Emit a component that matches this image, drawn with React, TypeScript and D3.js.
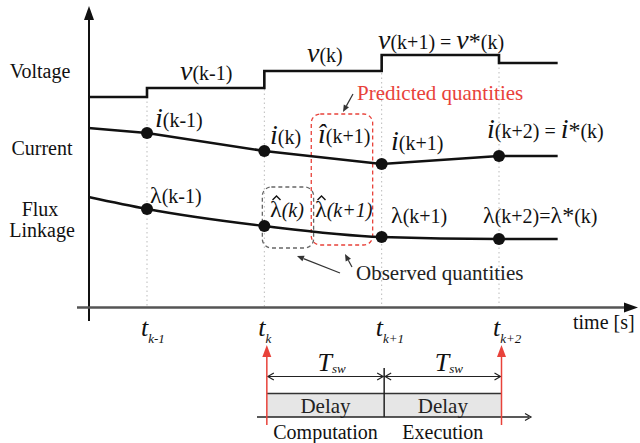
import React from "react";
import * as d3 from "d3";

const W = 640;
const H = 443;

// sample instants (time index) : origin, t(k-1), t(k), t(k+1), t(k+2), end
const timeSteps = [0.5, 1, 2, 3, 4, 4.5];
const sampleTimes = [1, 2, 3, 4];
const sampleTicks = ["k-1", "k", "k+1", "k+2"];
// signal levels (arbitrary units)
const voltage = [210, 219, 236, 252, 244, 244];
const current = [179, 174, 156, 143, 151, 151];
const flux = [110, 98, 81, 70, 68, 68];
const rowLabels = ["Voltage", "Current", "Flux", "Linkage"];

const FONT = "'Liberation Serif', 'Times New Roman', serif";

const x = d3.scaleLinear().domain([1, 4]).range([147, 499]);
const xb = (t: number) => x(t) + 2.5;
const y = d3.scaleLinear().domain([0, 300]).range([307, 7]);

type P = [number, number];

function Arrow({ from, to, color = "#333", w = 1.2, size = 7, head = 3 }: { from: P; to: P; color?: string; w?: number; size?: number; head?: number }) {
  const ang = Math.atan2(to[1] - from[1], to[0] - from[0]);
  const bx = to[0] - size * Math.cos(ang);
  const by = to[1] - size * Math.sin(ang);
  const px = -Math.sin(ang) * head;
  const py = Math.cos(ang) * head;
  return (
    <g>
      <line x1={from[0]} y1={from[1]} x2={bx} y2={by} stroke={color} strokeWidth={w} />
      <polygon points={`${to[0]},${to[1]} ${bx + px},${by + py} ${bx - px},${by - py}`} fill={color} />
    </g>
  );
}

function Chevron({ at, dir }: { at: P; dir: number }) {
  const s = 6;
  return (
    <path
      d={`M${at[0] - dir * s},${at[1] - 3.5} L${at[0]},${at[1]} L${at[0] - dir * s},${at[1] + 3.5}`}
      fill="none"
      stroke="#222"
      strokeWidth={1.2}
    />
  );
}

function Hat({ cx, cy }: { cx: number; cy: number }) {
  return <path d={`M${cx - 4},${cy + 3} L${cx},${cy - 1} L${cx + 4},${cy + 3}`} fill="none" stroke="#111" strokeWidth={1.4} />;
}

function SymLabel({ x0, yb, sym, sub, symSize = 28, italicSym = true, italicSub = false }: { x0: number; yb: number; sym: string; sub: string; symSize?: number; italicSym?: boolean; italicSub?: boolean }) {
  return (
    <text x={x0} y={yb} fontFamily={FONT} fill="#111">
      <tspan fontSize={symSize} fontStyle={italicSym ? "italic" : "normal"}>{sym}</tspan>
      <tspan fontSize={20} fontStyle={italicSub ? "italic" : "normal"}>{sub}</tspan>
    </text>
  );
}

export default function App() {
  const pts = (vals: number[]) => timeSteps.map((t, i) => [x(t), y(vals[i])] as P);
  const stepLine = d3.line().curve(d3.curveStepAfter);
  const linLine = d3.line();
  const smoothLine = d3.line().curve(d3.curveMonotoneX);
  const sampleIdx = sampleTimes.map((t) => timeSteps.indexOf(t));

  return (
    <svg width={W} height={H} style={{ position: "absolute", left: 0, top: 0, background: "#fff" }}>
      <rect width={W} height={H} fill="#fff" />
      {/* dotted sample lines */}
      {sampleTimes.map((t, i) => (
        <line key={"d" + i} x1={x(t)} x2={x(t)} y1={y(voltage[sampleIdx[i]])} y2={307} stroke="#bbb" strokeWidth={1} strokeDasharray="1.5,3" />
      ))}

      {/* axes */}
      <line x1={89} x2={89} y1={321} y2={18} stroke="#111" strokeWidth={2} />
      <polygon points="89,6 84,20 94,20" fill="#111" />
      <line x1={77} x2={628} y1={307.5} y2={307.5} stroke="#555" strokeWidth={2.5} />
      <polygon points="638,307.5 624,302.5 624,312.5" fill="#111" />

      {/* row labels */}
      <g fontFamily={FONT} fontSize={20} fill="#111" textAnchor="middle">
        <text x={40} y={78}>{rowLabels[0]}</text>
        <text x={42} y={155}>{rowLabels[1]}</text>
        <text x={40} y={216}>{rowLabels[2]}</text>
        <text x={42} y={237}>{rowLabels[3]}</text>
      </g>

      {/* dashed boxes */}
      <rect x={x(2) - 2} y={187} width={x(2.42) - x(2) + 2} height={61} rx={9} fill="none" stroke="#666" strokeWidth={1.3} strokeDasharray="4,3" />
      <rect x={x(2.4)} y={114} width={x(3) - 9 - x(2.4)} height={131} rx={9} fill="none" stroke="#e8423a" strokeWidth={1.3} strokeDasharray="4,3" />

      {/* signals */}
      <path d={stepLine(pts(voltage)) || ""} fill="none" stroke="#111" strokeWidth={2.6} />
      <path d={linLine(pts(current)) || ""} fill="none" stroke="#111" strokeWidth={2.6} />
      <path d={smoothLine(pts(flux)) || ""} fill="none" stroke="#111" strokeWidth={2.6} />
      {sampleIdx.map((k, i) => (
        <g key={"p" + i}>
          <circle cx={x(timeSteps[k])} cy={y(current[k])} r={6} fill="#111" />
          <circle cx={x(timeSteps[k])} cy={y(flux[k])} r={6} fill="#111" />
        </g>
      ))}

      {/* voltage labels */}
      <SymLabel x0={180} yb={80} sym="v" sub="(k-1)" />
      <SymLabel x0={307} yb={62} sym="v" sub="(k)" />
      <text x={378} y={49} fontFamily={FONT} fill="#111">
        <tspan fontSize={28} fontStyle="italic">v</tspan>
        <tspan fontSize={20}>(k+1) = </tspan>
        <tspan fontSize={28} fontStyle="italic">v</tspan>
        <tspan fontSize={24}>*</tspan>
        <tspan fontSize={20}>(k)</tspan>
      </text>

      {/* current labels */}
      <SymLabel x0={155} yb={127} sym="i" sub="(k-1)" />
      <SymLabel x0={270} yb={144} sym="i" sub="(k)" />
      <SymLabel x0={318} yb={143} sym={"\u00ee"} sub="(k+1)" />
      <SymLabel x0={391} yb={150} sym="i" sub="(k+1)" />
      <text x={487} y={138} fontFamily={FONT} fill="#111">
        <tspan fontSize={28} fontStyle="italic">i</tspan>
        <tspan fontSize={20}>(k+2) = </tspan>
        <tspan fontSize={28} fontStyle="italic">i</tspan>
        <tspan fontSize={24}>*</tspan>
        <tspan fontSize={20}>(k)</tspan>
      </text>

      {/* flux labels */}
      <SymLabel x0={150} yb={203} sym={"\u03bb"} sub="(k-1)" symSize={24} italicSym={false} />
      <SymLabel x0={270} yb={217} sym={"\u03bb"} sub="(k)" symSize={24} italicSym={false} italicSub />
      <SymLabel x0={315} yb={217} sym={"\u03bb"} sub="(k+1)" symSize={24} italicSym={false} italicSub />
      <Hat cx={276.5} cy={197} />
      <Hat cx={321.5} cy={197} />
      <SymLabel x0={391} yb={223} sym={"\u03bb"} sub="(k+1)" symSize={24} italicSym={false} />
      <text x={483} y={223} fontFamily={FONT} fill="#111">
        <tspan fontSize={24}>{"\u03bb"}</tspan>
        <tspan fontSize={20}>(k+2)=</tspan>
        <tspan fontSize={24}>{"\u03bb"}</tspan>
        <tspan fontSize={24}>*</tspan>
        <tspan fontSize={20}>(k)</tspan>
      </text>

      {/* annotations */}
      <text x={357} y={100} fontFamily={FONT} fontSize={21} fill="#e8423a">Predicted quantities</text>
      <Arrow from={[353, 94]} to={[343, 112]} />
      <text x={356} y={280} fontFamily={FONT} fontSize={21} fill="#222">Observed quantities</text>
      <Arrow from={[340, 273]} to={[297, 256]} />
      <Arrow from={[352, 267]} to={[345, 254]} />

      {/* time ticks */}
      {sampleTimes.map((t, i) => (
        <text key={"t" + i} x={x(t) - 6} y={336} fontFamily={FONT} fill="#111" fontStyle="italic">
          <tspan fontSize={26}>t</tspan>
          <tspan fontSize={13} dy={7}>{sampleTicks[i]}</tspan>
        </text>
      ))}
      <text x={573} y={329} fontFamily={FONT} fontSize={20} fill="#111">time [s]</text>

      {/* bottom timing diagram */}
      <rect x={xb(2)} y={393.5} width={xb(4) - xb(2)} height={417 - 393.5} fill="#e6e6e6" />
      <line x1={xb(2)} x2={xb(4)} y1={393.5} y2={393.5} stroke="#333" strokeWidth={1.5} />
      <line x1={xb(3)} x2={xb(3)} y1={368} y2={417} stroke="#222" strokeWidth={1.5} />
      <line x1={257} x2={529} y1={417} y2={417} stroke="#222" strokeWidth={1.5} />
      <Chevron at={[531, 417]} dir={1} />
      {[[2, 3], [3, 4]].map(([a, b], i) => (
        <g key={"ts" + i}>
          <line x1={xb(a) + 1} x2={xb(b) - 1} y1={376.5} y2={376.5} stroke="#222" strokeWidth={1.2} />
          <Chevron at={[xb(a) + 1, 376.5]} dir={-1} />
          <Chevron at={[xb(b) - 1, 376.5]} dir={1} />
          <text x={(xb(a) + xb(b)) / 2 - 8} y={371} fontFamily={FONT} fontStyle="italic" fill="#111">
            <tspan fontSize={26}>T</tspan>
            <tspan fontSize={13} dy={2}>sw</tspan>
          </text>
          <text x={(xb(a) + xb(b)) / 2} y={413} textAnchor="middle" fontFamily={FONT} fontSize={21} fill="#222">Delay</text>
        </g>
      ))}
      {[2, 4].map((t) => (
        <Arrow key={"r" + t} from={[xb(t), 425]} to={[xb(t), 345]} color="#e8423a" w={1.5} size={12} head={4.5} />
      ))}
      <text x={(xb(2) + xb(3)) / 2} y={439} textAnchor="middle" fontFamily={FONT} fontSize={20} fill="#111">Computation</text>
      <text x={(xb(3) + xb(4)) / 2} y={439} textAnchor="middle" fontFamily={FONT} fontSize={20} fill="#111">Execution</text>
    </svg>
  );
}
